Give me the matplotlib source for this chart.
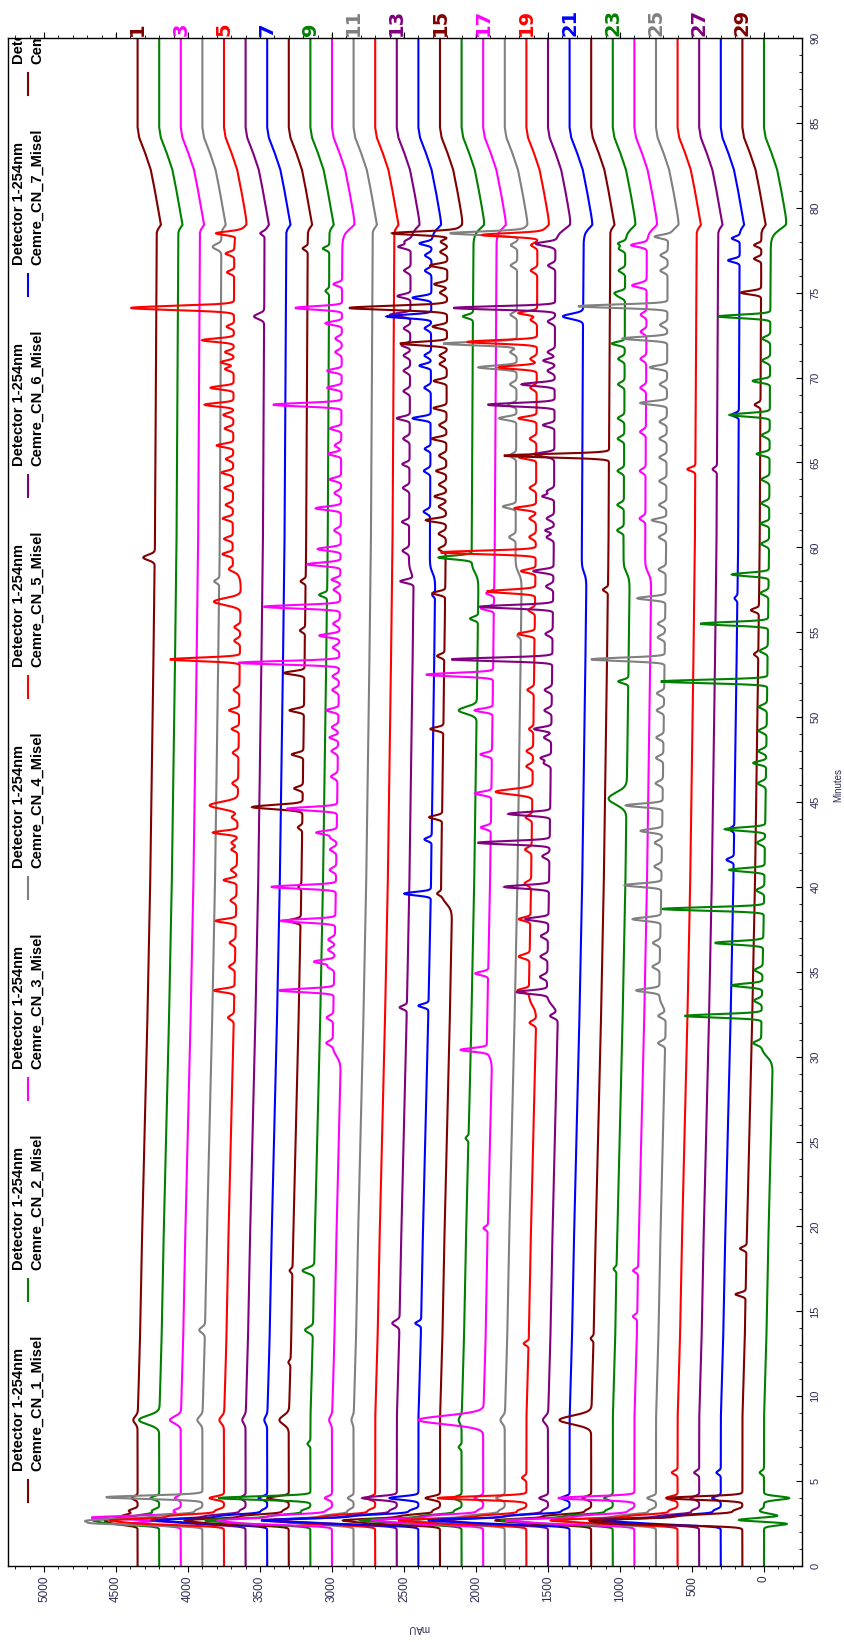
import numpy as np
import matplotlib
matplotlib.use('Agg')
import matplotlib.pyplot as plt
from matplotlib.transforms import blended_transform_factory

plt.rcParams['font.family'] = ['Liberation Sans', 'DejaVu Sans']

# one chromatogram per sample, stacked with a fixed mAU offset
N_RUNS = 30
OFFSET_STEP = 150
COLORS = ['#800000', '#008000', '#FF00FF', '#808080', '#FF0000', '#800080', '#0000FF']
LEGEND_DETECTOR = 'Detector 1-254nm'
LEGEND_SAMPLES = ['Cemre_CN_1_Misel', 'Cemre_CN_2_Misel', 'Cemre_CN_3_Misel', 'Cemre_CN_4_Misel',
                  'Cemre_CN_5_Misel', 'Cemre_CN_6_Misel', 'Cemre_CN_7_Misel', 'Cemre_CN_8_Misel']
RUN_LABELS = [1, 3, 5, 7, 9, 11, 13, 15, 17, 19, 21, 23, 25, 27, 29]

# gradient baseline drift shared by all runs (min, mAU)
DRIFT_T = [0, 8.6, 13.1, 18.4, 24.5, 29.8, 39.4, 49.6, 59.8, 70.2, 78.5, 78.7, 79.0, 80.7, 82.2, 83.1, 84.1, 84.7, 90]
DRIFT_MAU = [0, 0, 16, 28, 46, 62, 86, 104, 120, 127, 132, 139, 162, 127, 93, 58, 12, 0, 0]

# raised baseline stretches: (run, start min, end min, mAU)
PLATEAUS = [(5, 58.5, 78.6, 60), (10, 30, 78.6, 60), (13, 58.5, 78.6, 35), (14, 58.5, 78.6, 40),
            (15, 39, 78.6, 80), (16, 58.5, 78.6, 50), (17, 30, 78.6, 40), (18, 58.5, 78.6, 45),
            (19, 33, 78.6, 55), (20, 33, 78.6, 80), (21, 58.5, 78.6, 35), (23, 58.5, 78.6, 45),
            (24, 58.5, 78.6, 45), (25, 33, 78.6, 50), (30, 30, 78.6, 85)]

# small unresolved bumps: (run, retention times, mAU)
RIPPLES = [
    (5, [32.3, 35.3, 36.7, 39.2, 41.0, 42.6, 44.1, 46.1, 47.9, 51.6, 54.5, 55.3, 58.7], 40),
    (10, [30.8, 32.3, 35.3, 36.3, 36.9, 41.0, 42.2, 42.9, 46.5, 48.0, 49.4, 51.6, 52.4, 54.1, 55.5, 57.5,
          61.0, 63.2, 66.0, 71.5, 72.3], 45),
    (13, [59.8, 63.5, 66.4, 69.2, 70.4, 71.3, 72.9, 76.3, 78.0], 45),
    (14, [62.1, 64.5, 69.4, 71.3, 72.9, 76.3, 77.2], 45),
    (15, [59.9, 60.8, 62.4, 63.7, 65.4, 67.2, 70.8, 71.3, 75.0, 77.4, 78.0], 50),
    (18, [60.6, 65.4, 69.6, 71.5, 73.7, 76.6, 77.8], 45),
    (19, [32.0, 35.9, 40.2, 42.2, 44.1, 47.1, 48.0, 51.6, 56.3, 60.6, 61.7, 63.5, 66.4, 69.4, 71.1, 73.4,
          76.3, 77.8], 45),
    (20, [32.4, 34.7, 35.9, 37.1, 41.8, 47.3, 48.8, 50.4, 51.6, 54.9, 57.7, 60.6, 61.7, 63.3, 65.4, 70.4,
          71.5, 73.3, 76.6, 77.8], 50),
    (23, [61.0, 62.5, 64.5, 66.4, 67.6, 69.6, 71.1, 74.8, 76.3, 77.6], 45),
    (24, [61.7, 64.5, 66.8, 69.4, 71.1, 72.7, 73.7, 75.5, 77.8], 40),
    (25, [30.8, 32.4, 35.3, 36.7, 41.2, 42.6, 46.1, 47.6, 48.8, 50.4, 51.4, 54.7, 55.5, 58.7, 60.6, 62.5,
          63.9, 65.3, 66.4, 67.4, 69.6, 73.1, 76.3, 77.2], 50),
    (30, [30.8, 33.3, 35.1, 39.8, 42.6, 46.1, 48.0, 49.2, 50.6, 53.9, 57.3, 60.2, 62.6, 64.0, 66.6, 71.0,
          72.3], 55),
]

# peaks per run: (retention time min, height mAU[, sigma min])
P01 = [(2.5, 150), (2.7, 200), (2.95, 100), (3.25, 60), (4.0, 40), (8.6, 30, 0.2), (59.4, 80, 0.15)]
P02 = [(2.5, 300), (2.7, 400), (2.95, 150), (3.25, 50), (4.0, 60), (8.6, 140, 0.25)]
P03 = [(2.5, 350), (2.85, 620), (3.25, 50), (4.0, 40), (8.6, 75, 0.2)]
P04 = [(2.5, 650), (2.7, 680), (2.95, 300), (3.25, 50), (4.05, 670), (8.6, 35, 0.2), (13.9, 40, 0.15),
       (58.0, 35), (77.7, 60, 0.15)]
P05 = [(2.5, 500), (2.7, 700), (2.95, 350), (3.25, 60), (4.0, 100), (8.6, 32, 0.2), (33.9, 140), (38.0, 140),
       (40.4, 90), (42.2, 40), (43.2, 170), (44.8, 195, 0.2), (49.3, 50), (50.4, 70), (53.4, 485), (56.8, 185, 0.2),
       (59.6, 70), (60.5, 60), (61.7, 70), (62.5, 50), (63.5, 60), (64.4, 80), (65.2, 50), (66.0, 115), (67.0, 60),
       (67.8, 70), (68.4, 200), (69.4, 160), (70.5, 60), (70.9, 90), (71.5, 60), (72.2, 220), (73.0, 50),
       (74.1, 717, 0.12), (76.2, 50), (77.3, 60), (78.5, 150)]
P06 = [(2.5, 300), (2.7, 600), (2.95, 250), (3.25, 40), (4.0, 40), (8.6, 23, 0.2), (73.6, 70, 0.15), (78.5, 30)]
P07 = [(2.5, 350), (2.7, 700), (2.95, 300), (3.25, 40), (4.0, 60), (8.6, 20, 0.2)]
P08 = [(2.5, 450), (2.7, 640), (2.95, 300), (3.25, 40), (4.0, 150), (8.6, 65, 0.25), (12.0, 15), (17.4, 20),
       (38.0, 90), (40.0, 20), (43.5, 30), (44.7, 350, 0.12), (45.8, 60), (47.8, 80), (50.4, 100), (52.6, 140),
       (55.1, 35), (58.0, 35), (77.6, 35)]
P09 = [(2.5, 400), (2.7, 660), (2.95, 250), (3.25, 60), (4.0, 640), (7.2, 20), (13.9, 55, 0.15),
       (17.4, 80, 0.15), (57.2, 55), (75.1, 25), (77.6, 45)]
P10 = [(2.5, 500), (2.7, 700), (2.95, 400), (3.25, 40), (4.0, 50), (8.6, 20, 0.2), (33.9, 380), (35.6, 140),
       (38.0, 380), (40.0, 450), (43.2, 140), (44.6, 350), (48.8, 60), (50.4, 85), (53.2, 700), (54.8, 140),
       (56.5, 530), (58.1, 60), (59.0, 230), (59.9, 160), (62.3, 175), (64.0, 80), (65.5, 90), (67.0, 80),
       (68.4, 475), (69.4, 100), (70.4, 100), (73.2, 115), (74.1, 325), (75.5, 60)]
P11 = [(2.5, 300), (2.7, 500), (2.95, 200), (3.25, 40), (4.0, 40), (8.6, 15, 0.2)]
P12 = [(2.5, 400), (2.7, 700), (2.95, 300), (3.25, 50), (4.0, 60)]
P13 = [(2.5, 350), (2.7, 800), (2.95, 300), (3.25, 50), (4.0, 240), (14.3, 50, 0.15), (32.9, 50), (58.0, 90),
       (61.5, 50), (64.9, 50), (67.6, 90), (71.9, 60), (73.7, 140), (74.8, 90), (77.7, 85)]
P14 = [(2.5, 500), (2.7, 1000), (2.95, 400), (3.25, 60), (4.0, 200), (14.3, 40), (33.0, 70), (39.6, 185),
       (42.8, 50), (57.2, 20), (65.8, 40), (67.6, 125), (70.7, 80), (73.6, 310), (74.7, 130), (77.9, 85)]
P15 = [(2.5, 400), (2.7, 600), (2.95, 250), (3.25, 50), (4.0, 100), (39.6, 30), (44.1, 90), (49.3, 90),
       (53.6, 50), (57.3, 90), (61.6, 140), (63.0, 80), (64.5, 70), (66.4, 100), (68.2, 90), (69.8, 90),
       (72.0, 325), (73.0, 100), (74.1, 680, 0.12), (75.5, 90), (76.6, 120), (78.5, 415)]
P16 = [(2.5, 300), (2.7, 650), (2.95, 250), (3.25, 50), (4.0, 60), (7.0, 20), (8.6, 20, 0.2), (25.2, 20),
       (50.4, 125, 0.2), (55.8, 55), (59.4, 230), (73.6, 70)]
P17 = [(2.5, 400), (2.7, 700), (2.95, 350), (3.25, 40), (4.0, 60), (8.6, 450, 0.25), (19.9, 30), (30.4, 185),
       (34.9, 90), (43.5, 70), (45.5, 115), (47.8, 80), (50.4, 125), (52.5, 465), (56.4, 90), (57.3, 55)]
P18 = [(2.5, 350), (2.7, 600), (2.95, 250), (3.25, 40), (4.0, 60), (8.6, 30, 0.2), (54.8, 25), (62.4, 90),
       (67.6, 120), (68.4, 60), (70.6, 265), (72.0, 510), (78.5, 485)]
P19 = [(2.5, 500), (2.7, 800), (2.95, 300), (3.25, 60), (4.0, 620), (5.2, 30), (13.1, 35), (33.9, 80),
       (35.9, 30), (38.1, 80), (45.6, 255, 0.15), (49.3, 30), (54.9, 115), (57.4, 335), (58.6, 100),
       (59.7, 660), (62.3, 150), (65.3, 120), (67.6, 125), (70.6, 265), (72.1, 485), (73.8, 130), (78.4, 400)]
P20 = [(2.5, 400), (2.7, 650), (2.95, 250), (3.25, 40), (4.0, 60), (8.6, 35, 0.2), (33.8, 210), (38.1, 160),
       (40.0, 310), (42.6, 500), (44.3, 290), (47.6, 70), (49.3, 120), (53.4, 700), (56.5, 510), (58.6, 140),
       (61.0, 60), (63.0, 80), (65.5, 100), (67.2, 80), (68.4, 465), (69.6, 230), (71.0, 80), (74.1, 706),
       (77.9, 100)]
P21 = [(2.5, 450), (2.7, 900), (2.95, 400), (3.25, 50), (4.0, 60), (73.6, 140, 0.15)]
P22 = [(2.5, 350), (2.7, 600), (2.95, 300), (3.25, 40), (4.0, 60), (8.6, 220, 0.25), (13.4, 20), (57.5, 35),
       (65.4, 730)]
P23 = [(2.5, 400), (2.7, 700), (2.95, 300), (3.25, 50), (4.0, 60), (17.5, 20), (45.2, 125, 0.35), (52.1, 70),
       (72.0, 90), (75.0, 60), (77.9, 50)]
P24 = [(2.5, 500), (2.7, 800), (2.95, 350), (3.25, 40), (4.0, 530), (14.7, 30), (17.4, 35), (75.4, 70),
       (77.8, 70)]
P25 = [(2.5, 400), (2.7, 600), (2.95, 250), (3.25, 50), (4.0, 60), (33.9, 160), (38.1, 195), (40.1, 255),
       (43.3, 150), (44.8, 255), (53.4, 510), (57.0, 195), (61.6, 100), (68.5, 185), (70.6, 120), (72.3, 310),
       (74.2, 620), (78.3, 100)]
P26 = [(2.5, 450), (2.7, 800), (2.95, 300), (3.25, 60), (4.0, 80), (5.5, 40), (64.6, 55)]
P27 = [(2.5, 350), (2.7, 700), (2.95, 250), (3.25, 50), (4.0, 60), (5.5, 35), (64.6, 30)]
P28 = [(2.5, 400), (2.7, 750), (2.95, 300), (3.25, 50), (4.0, 60), (5.5, 30), (41.6, 50), (43.4, 35),
       (57.0, 20), (67.8, 50), (76.9, 80), (78.2, 55)]
P29 = [(2.5, 800), (2.7, 900), (2.95, 400), (3.25, 60), (4.0, 525), (16.0, 70), (18.7, 45), (53.7, 30),
       (56.3, 55), (68.4, 40), (75.0, 140), (77.0, 50), (77.8, 50)]
P30 = [(2.5, -180), (2.7, 200), (2.95, -100), (3.25, 30), (4.0, -175), (5.5, 30), (32.4, 535), (34.2, 210),
       (36.7, 335), (38.7, 705), (41.0, 245), (43.4, 280), (47.3, 90), (52.1, 740), (55.5, 470), (58.4, 255),
       (61.4, 60), (65.5, 90), (67.8, 280), (69.8, 120), (73.6, 360)]
PEAKS = [P01, P02, P03, P04, P05, P06, P07, P08, P09, P10, P11, P12, P13, P14, P15,
         P16, P17, P18, P19, P20, P21, P22, P23, P24, P25, P26, P27, P28, P29, P30]

W, H = 845, 1642
AX_L, AX_R, AX_T, AX_B = 8, 802, 38, 1566
X_MAX, X_MIN = 5250, -264


def gauss(t, t0, h, s):
    return h * np.exp(-0.5 * ((t - t0) / s) ** 2)


def build_trace(run, t):
    y = (N_RUNS - run) * OFFSET_STEP - np.interp(t, DRIFT_T, DRIFT_MAU)
    for p in PEAKS[run - 1]:
        y = y + gauss(t, p[0], p[1], p[2] if len(p) > 2 else 0.1)
    for r, t0, t1, h in PLATEAUS:
        if r == run:
            y = y + h / (1 + np.exp(-(t - t0) / 0.2)) / (1 + np.exp((t - t1) / 0.2))
    for r, times, h in RIPPLES:
        if r == run:
            for t0 in times:
                y = y + gauss(t, t0, h, 0.12)
    return y


def ax_xy(x, y):
    return (x - AX_L) / (AX_R - AX_L), (AX_B - y) / (AX_B - AX_T)


fig = plt.figure(figsize=(W / 100, H / 100), dpi=100)
ax = fig.add_axes([AX_L / W, 1 - AX_B / H, (AX_R - AX_L) / W, (AX_B - AX_T) / H])

t = np.arange(0, 90.001, 0.01)
for run in range(1, N_RUNS + 1):
    ax.plot(build_trace(run, t), t, color=COLORS[(run - 1) % 7], lw=1.5, solid_joinstyle='miter')

ax.set_xlim(X_MAX, X_MIN)
ax.set_ylim(0, 90)

# mAU axis (bottom)
ax.set_xticks(np.arange(0, 5001, 500))
ax.set_xticks(np.arange(-200, 5201, 100), minor=True)
ax.tick_params(axis='x', which='both', direction='out', top=True, labeltop=False,
               labelsize=8.5, labelcolor='#2b2b55', labelrotation=90, pad=3)
ax.tick_params(axis='x', which='major', length=4)
ax.tick_params(axis='x', which='minor', length=2)

# faint marks above the top edge
sec = ax.secondary_xaxis('top')
sec.set_xticks(np.arange(0, 4501, 500))
sec.tick_params(direction='out', length=3, width=1.2, color='#f2c58a', labeltop=False)
sec.spines['top'].set_visible(False)

# retention time axis (right)
ax.yaxis.tick_right()
ax.set_yticks(np.arange(0, 91, 5))
ax.set_yticks(np.arange(0, 91, 1), minor=True)
ax.tick_params(axis='y', which='both', direction='in', left=False, right=True,
               labelsize=8, labelcolor='#2b2b55', labelrotation=90, pad=6)
ax.tick_params(axis='y', which='major', length=4)
ax.tick_params(axis='y', which='minor', length=2)
for lab in ax.get_yticklabels():
    lab.set_va('center')
    lab.set_ha('left')

for sp in ax.spines.values():
    sp.set_linewidth(1.0)

fig.text(419 / W, 1 - 1628 / H, 'mAU', rotation=180, ha='center', va='center', fontsize=7, color='#2b2b55')
fig.text(838 / W, 1 - 785 / H, 'Minutes', rotation=90, ha='center', va='center', fontsize=7, color='#2b2b55')

# run numbers above the top edge
top_tr = blended_transform_factory(ax.transData, fig.transFigure)
for n in RUN_LABELS:
    ax.text((N_RUNS - n) * OFFSET_STEP, 1 - 36 / H, str(n), transform=top_tr, rotation=90,
            ha='center', va='bottom', fontsize=14, fontweight='bold', family='DejaVu Sans',
            color=COLORS[(n - 1) % 7], clip_on=False)

# legend row, clipped by the plot frame
for i, name in enumerate(LEGEND_SAMPLES):
    yc = 1491 - i * 201
    x0, y0 = ax_xy(28, yc + 11)
    x1, y1 = ax_xy(28, yc - 11)
    ax.plot([x0, x1], [y0, y1], transform=ax.transAxes, color=COLORS[i % 7], lw=1.5, clip_on=True)
    xa, ya = ax_xy(19, yc - 20)
    ax.text(xa, ya, LEGEND_DETECTOR, transform=ax.transAxes, rotation=90, ha='center', va='bottom',
            fontsize=10.5, fontweight='bold', clip_on=True)
    xb, yb = ax_xy(37.5, yc - 20)
    ax.text(xb, yb, name, transform=ax.transAxes, rotation=90, ha='center', va='bottom',
            fontsize=10.5, fontweight='bold', clip_on=True)

fig.savefig('out.png', dpi=100)
